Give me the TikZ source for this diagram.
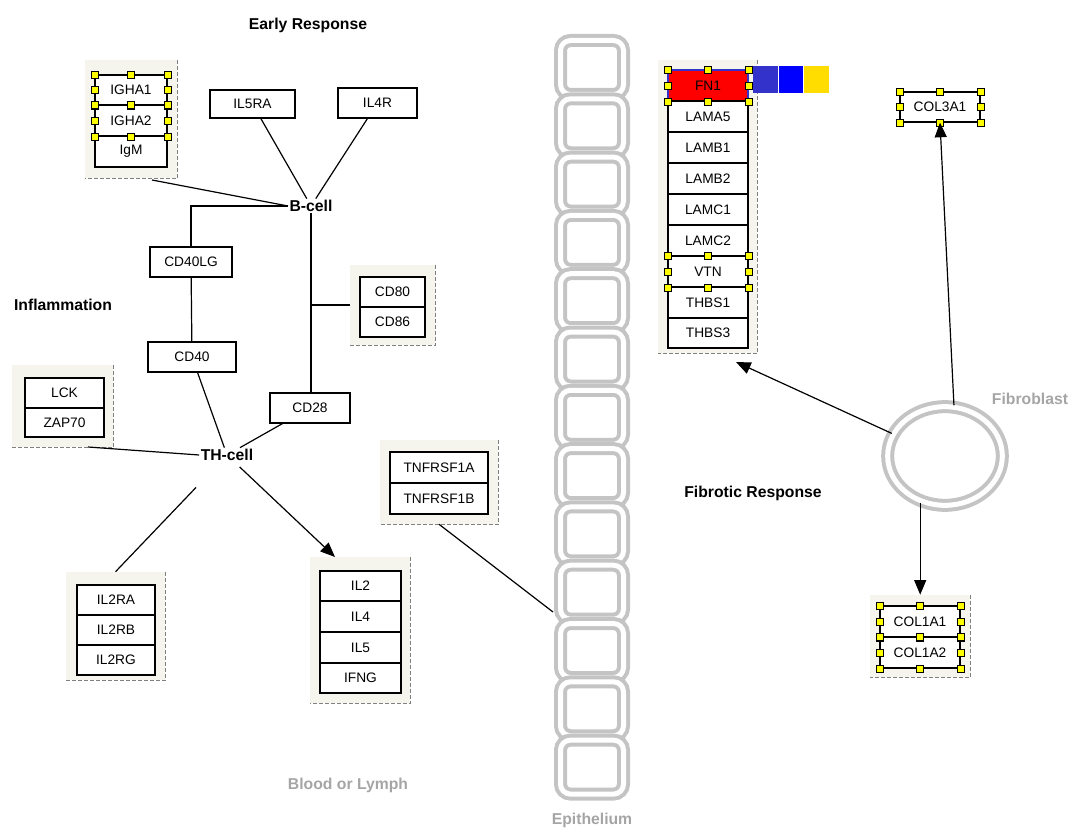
\documentclass[tikz,border=0pt]{standalone}
\usepackage{fontspec}
\setmainfont{Liberation Sans}
\usetikzlibrary{arrows.meta,shapes.geometric}
\definecolor{beige}{RGB}{245,245,238}
\definecolor{epigray}{RGB}{196,196,196}
\definecolor{lblgray}{RGB}{165,165,165}
\definecolor{sqa}{RGB}{51,51,204}
\definecolor{sqb}{RGB}{0,0,255}
\definecolor{sqc}{RGB}{255,221,0}
\definecolor{hyel}{RGB}{255,255,0}
\tikzset{
 gene/.style={draw=black, line width=0.9pt, fill=white, inner sep=0pt, font=\fontsize{10.3}{12}\selectfont},
 grp/.style={fill=beige, inner sep=0pt},
 grpedge/.style={draw=gray, line width=0.6pt, dash pattern=on 3pt off 1.5pt},
 lbl/.style={font=\bfseries\fontsize{11.8}{13}\selectfont, inner sep=1pt},
 glbl/.style={lbl, text=lblgray},
 conn/.style={line width=0.9pt},
 arr/.style={conn, -{Triangle[length=11pt,width=9pt]}},
 hnd/.style={draw=black, fill=hyel, line width=0.5pt},
 epi/.style={draw=epigray, line width=3pt, double=white, double distance=3.75pt, rounded corners=7.5pt},
}
\newcommand\gbox[6]{\node[gene, minimum width={(#4-#2)*0.75pt}, minimum height={(#5-#3)*0.75pt}] (#1) at ({(#2+#4)/2},{(#3+#5)/2}) {#6};}
\newcommand\grpbox[5]{\node[grp, minimum width={(#4-#2)*0.75pt}, minimum height={(#5-#3)*0.75pt}] (#1) at ({(#2+#4)/2},{(#3+#5)/2}) {};
 \draw[grpedge] (#1.north east) -- (#1.south east) -- (#1.south west);}
\newcommand\hset[1]{\foreach \a in {north west,north,north east,west,east,south west,south,south east}
 {\draw[hnd] ([shift={(-3.5,-3.5)}]#1.\a) rectangle ([shift={(3.5,3.5)}]#1.\a);}}
\begin{document}
\begin{tikzpicture}[x=0.75pt,y=-0.75pt]
\useasboundingbox (0,0) rectangle (1068,831);
% epithelium
\foreach \i in {0,...,12} {\draw[epi] (560.5,{40.5+58.3*\i}) rectangle ++(63,54);}
\coordinate (epiL) at (553,612);
% fibroblast
\node[ellipse, draw=epigray, line width=3pt, double=white, double distance=3.75pt, minimum width=86pt, minimum height=74pt, inner sep=0pt] (fib) at (945,456) {};
% groups
\grpbox{gIG}{85}{60}{177}{178}
\grpbox{gCD}{350}{265}{435}{345}
\grpbox{gLZ}{12}{365}{113}{447}
\grpbox{gIL2R}{66}{572}{165}{680}
\grpbox{gIL2}{310}{557}{410}{703}
\grpbox{gTN}{380}{440}{498}{524}
\grpbox{gFN}{658}{60}{757}{353}
\grpbox{gC1}{870}{595}{970}{677}
% genes
\gbox{igha1}{95}{75}{167}{105}{IGHA1}
\gbox{igha2}{95}{105}{167}{136}{IGHA2}
\gbox{igm}{95}{136}{167}{167}{IgM}
\gbox{il5ra}{210}{90}{295}{118}{IL5RA}
\gbox{il4r}{338}{88}{417}{118}{IL4R}
\gbox{cd40lg}{150}{247}{232}{277}{CD40LG}
\gbox{cd40}{148}{342}{236}{372}{CD40}
\gbox{cd28}{270}{393}{350}{423}{CD28}
\gbox{cd80}{360}{277}{425}{307}{CD80}
\gbox{cd86}{360}{307}{425}{337}{CD86}
\gbox{lck}{25}{378}{104}{408}{LCK}
\gbox{zap70}{25}{408}{104}{437}{ZAP70}
\gbox{il2ra}{77}{585}{155}{615}{IL2RA}
\gbox{il2rb}{77}{615}{155}{645}{IL2RB}
\gbox{il2rg}{77}{645}{155}{675}{IL2RG}
\gbox{il2}{320}{571}{401}{601}{IL2}
\gbox{il4}{320}{601}{401}{632}{IL4}
\gbox{il5}{320}{632}{401}{663}{IL5}
\gbox{ifng}{320}{663}{401}{693}{IFNG}
\gbox{tnfa}{390}{452}{488}{483}{TNFRSF1A}
\gbox{tnfb}{390}{483}{488}{514}{TNFRSF1B}
\node[gene, fill=red, draw=sqa, minimum width={80*0.75pt}, minimum height={31*0.75pt}] (fn1) at (708,85.5) {FN1};
\gbox{lama5}{668}{101}{748}{132}{LAMA5}
\gbox{lamb1}{668}{132}{748}{163}{LAMB1}
\gbox{lamb2}{668}{163}{748}{194}{LAMB2}
\gbox{lamc1}{668}{194}{748}{225}{LAMC1}
\gbox{lamc2}{668}{225}{748}{256}{LAMC2}
\gbox{vtn}{668}{256}{748}{287}{VTN}
\gbox{thbs1}{668}{287}{748}{318}{THBS1}
\gbox{thbs3}{668}{318}{748}{348}{THBS3}
\gbox{col3}{900}{92}{980}{122}{COL3A1}
\gbox{col1a}{880}{606}{960}{637}{COL1A1}
\gbox{col1b}{880}{637}{960}{668}{COL1A2}
% colour squares
\fill[sqa] (753,66) rectangle (778,93);
\fill[sqb] (779,66) rectangle (803,93);
\fill[sqc] (804,66) rectangle (829,93);
% handles
\hset{igha1}\hset{igha2}\hset{fn1}\hset{vtn}\hset{col3}\hset{col1a}\hset{col1b}
% labels
\node[lbl] (early) at (308,25) {Early Response};
\node[lbl] (infl) at (63,305) {Inflammation};
\node[lbl] (bcell) at (311,206) {B-cell};
\node[lbl] (thcell) at (227,455) {TH-cell};
\node[lbl] (fibr) at (753,493) {Fibrotic Response};
\node[glbl] (blood) at (348,785) {Blood or Lymph};
\node[glbl] (epil) at (592,820) {Epithelium};
\node[glbl] (fibl) at (1030,399) {Fibroblast};
% connectors
\coordinate (igEnd) at (152,180);
\coordinate (lzEnd) at (88,447);
\coordinate (il2tip) at (335,557);
\coordinate (fnTip) at (736,362);
\draw[conn] (igEnd) -- (bcell.west);
\draw[conn] (il5ra) -- (bcell);
\draw[conn] (il4r) -- (bcell);
\draw[conn] (bcell.west) -| (cd40lg.north);
\draw[conn] (bcell.south) -- (bcell.south |- cd28.north);
\draw[conn] (bcell.south |- gCD.west) -- (gCD.west);
\draw[conn] (cd40lg) -- (cd40);
\draw[conn] (cd40) -- (thcell);
\draw[conn] (cd28) -- (thcell);
\draw[conn] (lzEnd) -- (thcell.west);
\draw[conn, shorten <=26pt] (thcell) -- (gIL2R.north);
\draw[arr, shorten <=5pt] (thcell) -- (il2tip);
\draw[conn] (gTN.south) -- (epiL);
\draw[arr] (fib.157) -- (fnTip);
\draw[arr] (fib.80) -- (col3.south);
\draw[arr] (fib.-118) -- (fib.-118 |- gC1.north);
\end{tikzpicture}
\end{document}
